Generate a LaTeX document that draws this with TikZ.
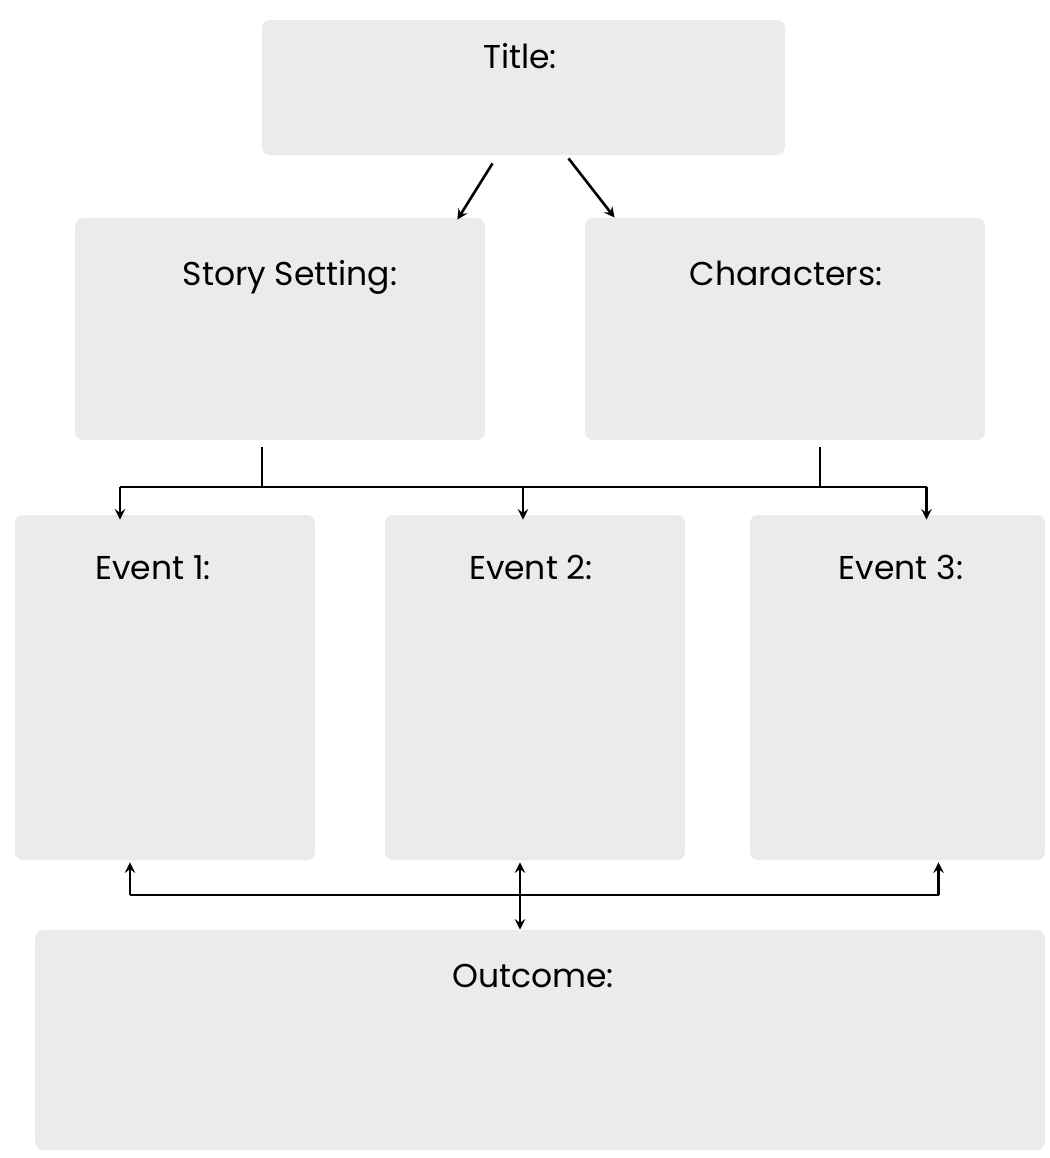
\documentclass[tikz,border=0pt]{standalone}
\usepackage{fontspec}
\setmainfont{Poppins}
\usetikzlibrary{positioning}
\definecolor{cardgray}{HTML}{EBEBEB}
\tikzset{
  card/.style={fill=cardgray, draw=none, rounded corners=4pt, inner sep=0pt},
  head/.style={font=\fontsize{16.5}{20}\selectfont, anchor=base},
  link/.style={line width=1.3pt},
}
\begin{document}
\begin{tikzpicture}[x=0.5pt,y=-0.5pt,>=stealth]
\useasboundingbox (0,0) rectangle (1050,1158);
% boxes
\node[card,minimum width=261.5pt,minimum height=67.5pt](title) at (523.5,87.5){};
\node[card,minimum width=205pt,minimum height=111pt](story) at (280,329){};
\node[card,minimum width=200pt,minimum height=111pt](chars) at (785,329){};
\node[card,minimum width=150pt,minimum height=172.5pt](ev1) at (165,687.5){};
\node[card,minimum width=150pt,minimum height=172.5pt](ev2) at (535,687.5){};
\node[card,minimum width=147.5pt,minimum height=172.5pt](ev3) at (897.5,687.5){};
\node[card,minimum width=505pt,minimum height=110pt](outcome) at (540,1040){};
% labels
\node[head] (ttitle) at (520,68) {Title:};
\node[head] (tstory) at (290,285) {Story Setting:};
\node[head] (tchars) at (786,285) {Characters:};
\node[head] (tev1) at (153,579) {Event 1:};
\node[head] (tev2) at (531,579) {Event 2:};
\node[head] (tev3) at (901,579) {Event 3:};
\node[head] (tout) at (533,987) {Outcome:};
% title -> setting, characters
\draw[link,->]([shift={(-31,8)}]title.south)--([shift={(-28,2)}]story.north east);
\draw[link,->]([shift={(45,3)}]title.south)--([shift={(30,0)}]chars.north west);
% fork down to events
\coordinate (fork) at (523,487);
\draw[link]([shift={(-18,7)}]story.south)--([xshift=-9pt]story.south |- fork);
\draw[link]([shift={(35,7)}]chars.south)--([xshift=17.5pt]chars.south |- fork);
\draw[link]([xshift=-22.5pt]ev1.north |- fork)--([xshift=14.5pt]ev3.north |- fork);
\draw[link,->]([xshift=-22.5pt]ev1.north |- fork)--([shift={(-45,5)}]ev1.north);
\draw[link,->](fork)--([shift={(-12,5)}]ev2.north);
\draw[link,->]([xshift=14.5pt]ev3.north |- fork)--([shift={(29,5)}]ev3.north);
% join from events to outcome
\coordinate (join) at (520,895);
\draw[link]([xshift=-17.5pt]ev1.south |- join)--([xshift=20.5pt]ev3.south |- join);
\draw[link,->]([xshift=-17.5pt]ev1.south |- join)--([shift={(-35,2)}]ev1.south);
\draw[link,->]([xshift=20.5pt]ev3.south |- join)--([shift={(41,2)}]ev3.south);
\draw[link,<->]([shift={(-15,2)}]ev2.south)--([shift={(-20,0)}]outcome.north);
\end{tikzpicture}
\end{document}
